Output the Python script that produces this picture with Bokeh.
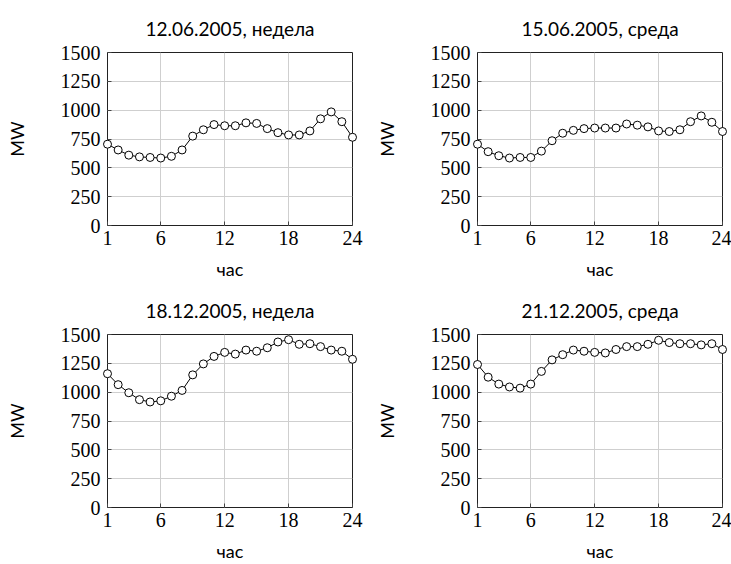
from bokeh.plotting import figure
from bokeh.layouts import gridplot
from bokeh.models import FixedTicker, Range1d
from bokeh.embed import file_html
from bokeh.resources import INLINE

hours = list(range(1, 25))
x_ticks = [1, 6, 12, 18, 24]
y_ticks = [0, 250, 500, 750, 1000, 1250, 1500]

titles = ["12.06.2005, недела", "15.06.2005, среда", "18.12.2005, недела", "21.12.2005, среда"]
load_jun12 = [705, 655, 610, 595, 590, 585, 600, 655, 775, 830, 875, 865,
              865, 890, 885, 840, 805, 785, 785, 820, 925, 985, 900, 765]
load_jun15 = [705, 640, 605, 585, 590, 590, 645, 735, 800, 825, 840, 845,
              845, 845, 880, 870, 855, 820, 815, 830, 900, 950, 895, 815]
load_dec18 = [1160, 1065, 995, 935, 915, 925, 965, 1015, 1150, 1245, 1310, 1345,
              1330, 1365, 1355, 1385, 1435, 1455, 1415, 1420, 1395, 1365, 1355, 1285]
load_dec21 = [1240, 1130, 1070, 1045, 1035, 1070, 1180, 1280, 1325, 1365, 1355, 1345,
              1340, 1370, 1395, 1395, 1415, 1450, 1430, 1420, 1420, 1410, 1420, 1370]
series = [load_jun12, load_jun15, load_dec18, load_dec21]

SANS = "Lato"
SERIF = "Liberation Serif"

# (width, height, left, right, top, bottom)
geo = [
    (365, 282, 107, 13, 52, 57),
    (366, 282, 112, 9, 52, 57),
    (365, 282, 107, 13, 52, 57),
    (366, 282, 112, 9, 52, 57),
]

figs = []
for i in range(4):
    w, h, bl, br, bt, bb = geo[i]
    p = figure(width=w, height=h, output_backend="svg", toolbar_location=None,
               x_range=Range1d(1, 24), y_range=Range1d(0, 1500),
               min_border_left=bl, min_border_right=br,
               min_border_top=bt, min_border_bottom=bb,
               title=titles[i])
    p.title.text_font = SANS
    p.title.text_font_size = "19px"
    p.title.text_font_style = "normal"
    p.title.align = "center"
    p.title.vertical_align = "bottom"
    p.title.standoff = 26
    p.title.text_color = "black"

    p.xaxis.ticker = FixedTicker(ticks=x_ticks)
    p.yaxis.ticker = FixedTicker(ticks=y_ticks)
    for ax in (p.xaxis[0], p.yaxis[0]):
        ax.axis_line_color = None
        ax.major_tick_in = 4
        ax.major_tick_out = 0
        ax.major_tick_line_color = "#444444"
        ax.minor_tick_line_color = None
        ax.major_label_text_font = SERIF
        ax.major_label_text_font_size = "20px"
        ax.major_label_text_color = "black"
        ax.axis_label_text_font = SANS
        ax.axis_label_text_font_size = "18px"
        ax.axis_label_text_font_style = "normal"
        ax.axis_label_text_color = "black"
    p.xaxis.axis_label = "час"
    p.yaxis.axis_label = "MW"
    p.xaxis.major_label_standoff = 5
    p.yaxis.major_label_standoff = 7
    p.xaxis.axis_label_standoff = 10
    p.yaxis.axis_label_standoff = 30

    p.grid.grid_line_color = "#cfcfcf"
    p.grid.grid_line_width = 1
    p.outline_line_color = "#222222"
    p.outline_line_width = 1
    p.outline_line_alpha = 1
    p.background_fill_color = "white"
    p.border_fill_color = "white"

    p.line(hours, series[i], line_color="black", line_width=1, level="overlay")
    p.scatter(hours, series[i], size=8, fill_color="white", line_color="black",
              line_width=1, level="overlay")
    figs.append(p)

grid = gridplot([[figs[0], figs[1]], [figs[2], figs[3]]], toolbar_location=None)

open("out.html", "w").write(file_html(grid, INLINE))
